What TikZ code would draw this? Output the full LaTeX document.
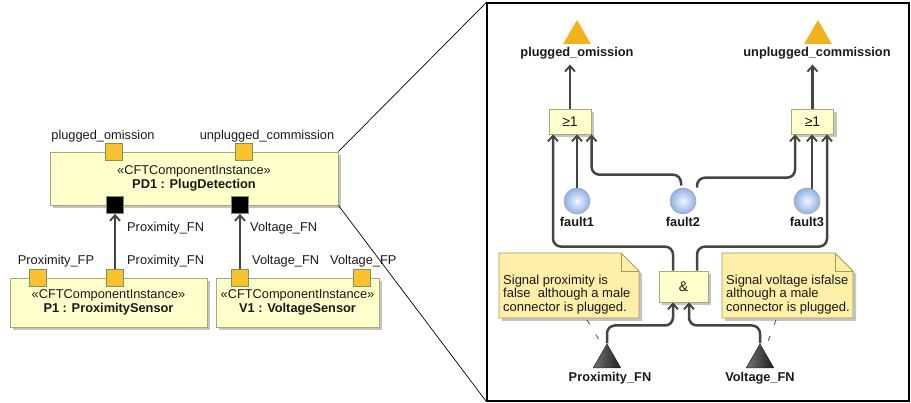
\documentclass[tikz,border=0pt]{standalone}
\usepackage{fontspec}
\setmainfont{Liberation Sans}
\usetikzlibrary{arrows.meta,shapes.geometric,shadows,calc}
\definecolor{boxf}{HTML}{FFFFCC}
\definecolor{boxb}{HTML}{A8A878}
\definecolor{portf}{HTML}{F9C22E}
\definecolor{portb}{HTML}{6E9A64}
\definecolor{connc}{HTML}{444444}
\definecolor{notef}{HTML}{FDEEA8}
\definecolor{noteb}{HTML}{A89A5A}
\definecolor{evf}{HTML}{F2B21C}
\definecolor{shad}{HTML}{C4C4C4}
\tikzset{
  x=1pt, y=-1pt,
  txt/.style={font=\fontsize{12.8}{15}\selectfont, inner sep=1pt, text=black!90},
  btxt/.style={font=\fontsize{12.8}{15}\selectfont\bfseries, inner sep=1pt, text=black!90},
  comp/.style={draw=boxb, fill=boxf, line width=0.8pt, inner sep=0pt,
    drop shadow={shadow xshift=3pt, shadow yshift=-3pt, fill=shad, opacity=1},
    align=center, font=\fontsize{12.8}{15}\selectfont, text=black!90},
  port/.style={draw=portb, fill=portf, line width=0.8pt, minimum size=17pt, inner sep=0pt},
  bport/.style={draw=portb, fill=black, line width=0.8pt, minimum size=17pt, inner sep=0pt},
  conn/.style={draw=connc, line width=2.5pt, rounded corners=8pt,
    -{Straight Barb[length=5.5pt,width=10pt,line width=1.9pt]}},
  gate/.style={draw=boxb, fill=boxf, line width=0.8pt, inner sep=0pt,
    drop shadow={shadow xshift=3pt, shadow yshift=-3pt, fill=shad, opacity=1},
    font=\fontsize{14}{15}\selectfont, text=black!90},
  outev/.style={regular polygon, regular polygon sides=3, minimum size=32pt, inner sep=0pt,
    fill=evf, draw=none},
  inev/.style={regular polygon, regular polygon sides=3, minimum size=32pt, inner sep=0pt,
    left color=black!55, right color=black!88, draw=black!85, line width=0.5pt},
  fault/.style={circle, minimum size=26pt, inner sep=0pt, draw=black!35, line width=0.6pt,
    inner color=blue!4, outer color={rgb,255:red,140;green,178;blue,230}},
  notebox/.style={draw=noteb, fill=notef, line width=0.8pt},
  notetxt/.style={font=\fontsize{13}{13.5}\selectfont, align=left, inner sep=0pt, anchor=west, text=black!90},
  anchorline/.style={draw=black!65, line width=0.9pt, dash pattern=on 5pt off 12pt},
}
\begin{document}
\begin{tikzpicture}
\useasboundingbox (0,0) rectangle (911,403);

% ---------- left part ----------
\node[comp, minimum width=288pt, minimum height=53pt] (pd1) at (194,178.5)
  {\guillemotleft CFTComponentInstance\guillemotright\\[-1pt]\textbf{PD1 : PlugDetection}};
\node[comp, minimum width=197pt, minimum height=49pt] (p1) at (108.5,302.5)
  {\guillemotleft CFTComponentInstance\guillemotright\\[-1pt]\textbf{P1 : ProximitySensor}};
\node[comp, minimum width=163pt, minimum height=49pt] (v1) at (297.5,302.5)
  {\guillemotleft CFTComponentInstance\guillemotright\\[-1pt]\textbf{V1 : VoltageSensor}};

\node[port] (pdo) at (114,152) {};
\node[port] (pdu) at (244,152) {};
\node[bport] (pdin1) at (115,205) {};
\node[bport] (pdin2) at (240,205) {};
\node[port] (p1fp) at (38,278) {};
\node[port] (p1fn) at (115,278) {};
\node[port] (v1fn) at (240,278) {};
\node[port] (v1fp) at (362,278) {};

\node[txt] (lpdo) at (103,136) {plugged\_omission};
\node[txt] (lpdu) at (267,136) {unplugged\_commission};
\node[txt] (lp1fp) at (56,261) {Proximity\_FP};
\node[txt, anchor=west] (lp1fn) at (126,261) {Proximity\_FN};
\node[txt, anchor=west] (lv1fn) at (251,261) {Voltage\_FN};
\node[txt, anchor=west] (lv1fp) at (329,261) {Voltage\_FP};
\node[txt, anchor=west] (lc1) at (126,228) {Proximity\_FN};
\node[txt, anchor=west] (lc2) at (249,228) {Voltage\_FN};

\draw[conn] (p1fn.north) -- (pdin1.south);
\draw[conn] (v1fn.north) -- (pdin2.south);

% ---------- zoom frame ----------
\node[draw=black, line width=1.2pt, minimum width=422pt, minimum height=398pt, inner sep=0pt]
  (frame) at (698,202) {};
\draw[black, line width=0.7pt] (pd1.north east) -- (frame.north west);
\draw[black, line width=0.7pt] (pd1.south east) -- (frame.south west);

% ---------- right part ----------
\node[outev] (topL) at (577,36) {};
\node[outev] (topR) at (818,36) {};
\node[btxt] (ltopL) at (577,53) {plugged\_omission};
\node[btxt] (ltopR) at (817,53) {unplugged\_commission};

\node[gate, minimum width=42pt, minimum height=25pt] (orL) at (570,121.5) {≥1};
\node[gate, minimum width=42pt, minimum height=25pt] (orR) at (812.5,121.5) {≥1};
\node[gate, minimum width=49pt, minimum height=31pt] (and) at (683.5,286.5) {\&};

\node[fault] (f1) at (577,201) {};
\node[fault] (f2) at (683,201) {};
\node[fault] (f3) at (807,201) {};
\node[btxt] (lf1) at (577,222) {fault1};
\node[btxt] (lf2) at (683,222) {fault2};
\node[btxt] (lf3) at (807,222) {fault3};

\node[inev] (pfn) at (607,360) {};
\node[inev] (vfn) at (760,360) {};
\node[btxt] (lpfn) at (610,378) {Proximity\_FN};
\node[btxt] (lvfn) at (760,378) {Voltage\_FN};

% gate outputs
\draw[conn] (orL.north) -- ++(0,-44);
\draw[conn] (orR.north) -- ++(0,-44);

% fault connections
\draw[conn] (f1.north) -- (f1.north |- orL.south);
\draw[conn] ([xshift=5pt,yshift=-1pt]f3.north) -- ([xshift=-0.5pt]orR.south);
\draw[conn] ([xshift=-2pt,yshift=2pt]f2.north) -- ++(0,-11) -| ([xshift=21.5pt]orL.south);
\draw[conn] ([xshift=14pt]f2.north) -- ++(0,-10) -| ([xshift=-17.5pt]orR.south);

% AND outputs
\draw[conn] ([xshift=-10.5pt]and.north) -- ++(0,-24) -| ([xshift=-17pt]orL.south);
\draw[conn] ([xshift=13.5pt]and.north) -- ++(0,-24) -| ([xshift=14.5pt]orR.south);

% AND inputs
\draw[conn] (pfn.corner 1) -- ++(0,-18) -| ([xshift=-10.5pt]and.south);
\draw[conn] (vfn.corner 1) -- ++(0,-18) -| ([xshift=5.5pt]and.south);

% notes
\coordinate (n1sw) at (499,318);
\coordinate (n1ne) at (639,253);
\fill[shad] ($(n1sw)+(3,3)$) -- ($(n1sw|-n1ne)+(3,3)$) -- ($(n1ne)+(-15,3)$) -- ($(n1ne)+(3,21)$) -- ($(n1ne|-n1sw)+(3,3)$) -- cycle;
\draw[notebox] (n1sw) -- (n1sw|-n1ne) -- ($(n1ne)+(-18,0)$) -- ($(n1ne)+(0,18)$) -- (n1ne|-n1sw) -- cycle;
\draw[noteb, line width=0.8pt] ($(n1ne)+(-18,0)$) -- ($(n1ne)+(-18,18)$) -- ($(n1ne)+(0,18)$);
\node[notetxt] (n1) at (503,294.5) {Signal proximity is\\false\ \ although a male\\connector is plugged.};

\coordinate (n2sw) at (722,318);
\coordinate (n2ne) at (853,253);
\fill[shad] ($(n2sw)+(3,3)$) -- ($(n2sw|-n2ne)+(3,3)$) -- ($(n2ne)+(-15,3)$) -- ($(n2ne)+(3,21)$) -- ($(n2ne|-n2sw)+(3,3)$) -- cycle;
\draw[notebox] (n2sw) -- (n2sw|-n2ne) -- ($(n2ne)+(-18,0)$) -- ($(n2ne)+(0,18)$) -- (n2ne|-n2sw) -- cycle;
\draw[noteb, line width=0.8pt] ($(n2ne)+(-18,0)$) -- ($(n2ne)+(-18,18)$) -- ($(n2ne)+(0,18)$);
\node[notetxt] (n2) at (726,294.5) {Signal voltage isfalse\\although a male\\connector is plugged.};

\coordinate (a1) at (587,320);
\coordinate (a2) at (776,320);
\draw[anchorline] (a1) -- ([xshift=-7pt,yshift=2pt]pfn.corner 1);
\draw[anchorline] (a2) -- ([xshift=8pt,yshift=2pt]vfn.corner 1);
\end{tikzpicture}
\end{document}
